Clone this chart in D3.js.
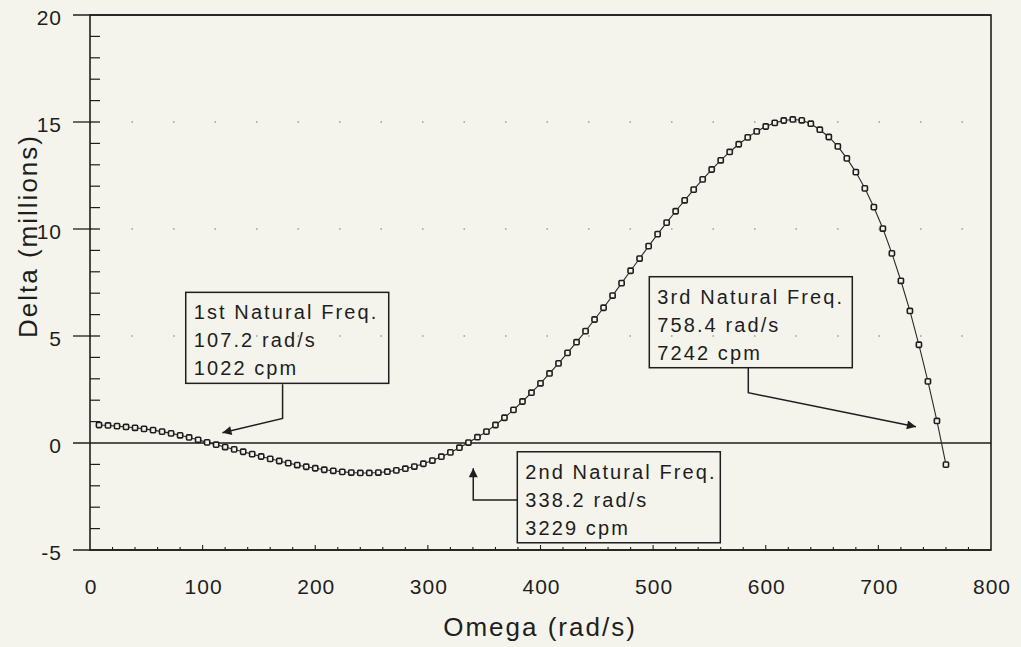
<!DOCTYPE html>
<html>
<head>
<meta charset="utf-8">
<script src="https://cdn.jsdelivr.net/npm/d3@7"></script>
<style>
  body { margin: 0; background: #f4f4ec; }
  text { font-family: "Liberation Sans", Arial, sans-serif; fill: #1e1e1e; }
</style>
</head>
<body>
<div id="app"></div>
<script>
let width = 1021;
let height = 647;

// omega (rad/s) and delta (millions)
let omega = [8, 16, 24, 32, 40, 48, 56, 64, 72, 80, 88, 96, 104, 112, 120, 128, 136, 144, 152, 160,
             168, 176, 184, 192, 200, 208, 216, 224, 232, 240, 248, 256, 264, 272, 280, 288, 296, 304, 312, 320,
             328, 336, 344, 352, 360, 368, 376, 384, 392, 400, 408, 416, 424, 432, 440, 448, 456, 464, 472, 480,
             488, 496, 504, 512, 520, 528, 536, 544, 552, 560, 568, 576, 584, 592, 600, 608, 616, 624, 632, 640,
             648, 656, 664, 672, 680, 688, 696, 704, 712, 720, 728, 736, 744, 752, 760];
let delta = [0.84, 0.82, 0.79, 0.75, 0.71, 0.66, 0.60, 0.53, 0.45, 0.36, 0.26, 0.15, 0.03, -0.08, -0.19, -0.30, -0.41, -0.52, -0.63, -0.74,
             -0.84, -0.94, -1.03, -1.11, -1.18, -1.25, -1.30, -1.35, -1.38, -1.40, -1.40, -1.38, -1.34, -1.28, -1.20, -1.10, -0.97, -0.82, -0.64, -0.44,
             -0.22, 0.02, 0.27, 0.53, 0.84, 1.18, 1.55, 1.94, 2.35, 2.79, 3.25, 3.72, 4.21, 4.71, 5.23, 5.77, 6.32, 6.89, 7.47, 8.05,
             8.62, 9.20, 9.76, 10.30, 10.83, 11.34, 11.84, 12.32, 12.78, 13.21, 13.60, 13.96, 14.28, 14.56, 14.79, 14.96, 15.07, 15.12, 15.08, 14.92,
             14.64, 14.30, 13.86, 13.30, 12.66, 11.90, 11.02, 10.02, 8.86, 7.58, 6.17, 4.59, 2.88, 1.03, -1.01];

let xTicks = [0, 100, 200, 300, 400, 500, 600, 700, 800];
let yTicks = [-5, 0, 5, 10, 15, 20];

// callout boxes: text lines, box corner (data units), leader path (data units)
let notes = [
  { lines: ['1st Natural Freq.', '107.2 rad/s', '1022 cpm'], at: [85, 7.04],
    path: [[171, 2.74], [171, 1.15], [117.6, 0.48]] },
  { lines: ['2nd Natural Freq.', '338.2 rad/s', '3229 cpm'], at: [379.4, -0.41],
    path: [[379.4, -2.66], [340.3, -2.66], [340.3, -1.18]] },
  { lines: ['3rd Natural Freq.', '758.4 rad/s', '7242 cpm'], at: [496.6, 7.77],
    path: [[584.5, 3.54], [584.5, 2.35], [733.4, 0.76]] }
];

let bg = '#f4f4ec';
let ink = '#1e1e1e';

let xScale = d3.scaleLinear().domain([0, 800]).range([90, 991]);
let yScale = d3.scaleLinear().domain([-5, 20]).range([550, 15]);

let svg = d3.select('#app').append('svg')
    .attr('width', width)
    .attr('height', height)
    .style('background', bg);

svg.append('defs').append('marker')
    .attr('id', 'arrow')
    .attr('viewBox', '0 0 10 10')
    .attr('refX', 10).attr('refY', 5)
    .attr('markerWidth', 13).attr('markerHeight', 9)
    .attr('markerUnits', 'userSpaceOnUse')
    .attr('orient', 'auto')
  .append('path')
    .attr('d', 'M0,0 L10,5 L0,10 Z')
    .style('fill', ink);

// faint dotted grid
svg.selectAll('.grid')
  .data([5, 10, 15])
  .enter().append('line')
    .attr('x1', xScale(0)).attr('x2', xScale(800))
    .attr('y1', d => yScale(d)).attr('y2', d => yScale(d))
    .style('stroke', '#9a9a9a')
    .style('stroke-width', 1.3)
    .style('stroke-dasharray', '1.5 40');

// frame
svg.append('rect')
    .attr('x', xScale(0)).attr('y', yScale(20))
    .attr('width', xScale(800) - xScale(0))
    .attr('height', yScale(-5) - yScale(20))
    .style('fill', 'none')
    .style('stroke', ink)
    .style('stroke-width', 1.6);

// zero line and outer tick stubs for top/bottom
svg.selectAll('.hline')
  .data([-5, 0, 20])
  .enter().append('line')
    .attr('x1', xScale(0) - 17).attr('x2', xScale(800))
    .attr('y1', d => yScale(d)).attr('y2', d => yScale(d))
    .style('stroke', ink)
    .style('stroke-width', 1.5);

// y ticks
svg.selectAll('.ymajor')
  .data([5, 10, 15])
  .enter().append('line')
    .attr('x1', xScale(0) - 17).attr('x2', xScale(0) + 10)
    .attr('y1', d => yScale(d)).attr('y2', d => yScale(d))
    .style('stroke', ink).style('stroke-width', 1.3);

svg.selectAll('.yminor')
  .data(d3.range(-5, 20, 1).filter(d => d % 5 !== 0))
  .enter().append('line')
    .attr('x1', xScale(0)).attr('x2', xScale(0) + 10)
    .attr('y1', d => yScale(d)).attr('y2', d => yScale(d))
    .style('stroke', ink).style('stroke-width', 1.2);

// x ticks on the bottom edge
svg.selectAll('.xminor')
  .data(d3.range(20, 800, 20))
  .enter().append('line')
    .attr('x1', d => xScale(d)).attr('x2', d => xScale(d))
    .attr('y1', yScale(-5)).attr('y2', d => yScale(-5) - (d % 100 === 0 ? 5 : 3))
    .style('stroke', ink).style('stroke-width', 1.1);

svg.selectAll('.ylab')
  .data(yTicks)
  .enter().append('text')
    .attr('x', 62)
    .attr('y', d => yScale(d) + 10)
    .attr('text-anchor', 'end')
    .style('font-size', '21px')
    .style('letter-spacing', '1px')
    .text(d => d);

svg.selectAll('.xlab')
  .data(xTicks)
  .enter().append('text')
    .attr('x', d => xScale(d) + 1)
    .attr('y', 594)
    .attr('text-anchor', 'middle')
    .style('font-size', '21px')
    .style('letter-spacing', '1px')
    .text(d => d);

svg.append('text')
    .attr('x', 540)
    .attr('y', 636)
    .attr('text-anchor', 'middle')
    .style('font-size', '26px')
    .style('letter-spacing', '2px')
    .text('Omega (rad/s)');

svg.append('text')
    .attr('transform', 'translate(37,236) rotate(-90)')
    .attr('text-anchor', 'middle')
    .style('font-size', '26px')
    .style('letter-spacing', '2px')
    .text('Delta (millions)');

// curve
let pts = omega.map((w, i) => [w, delta[i]]);

svg.append('path')
    .datum(pts)
    .attr('d', d3.line().x(d => xScale(d[0])).y(d => yScale(d[1])))
    .style('fill', 'none')
    .style('stroke', '#2a2a2a')
    .style('stroke-width', 1.1);

svg.selectAll('.pt')
  .data(pts)
  .enter().append('rect')
    .attr('x', d => xScale(d[0]) - 2.6)
    .attr('y', d => yScale(d[1]) - 2.6)
    .attr('width', 5.2).attr('height', 5.2)
    .attr('rx', 1)
    .style('fill', bg)
    .style('stroke', ink)
    .style('stroke-width', 1.6);

// callouts
let boxW = 203, boxH = 91;
let g = svg.selectAll('.note')
  .data(notes)
  .enter().append('g');

g.append('rect')
    .attr('x', d => xScale(d.at[0]))
    .attr('y', d => yScale(d.at[1]))
    .attr('width', boxW).attr('height', boxH)
    .style('fill', 'none')
    .style('stroke', ink)
    .style('stroke-width', 1.5);

g.each(function(d) {
  let sel = d3.select(this);
  d.lines.forEach((t, i) => {
    sel.append('text')
        .attr('x', xScale(d.at[0]) + 8)
        .attr('y', yScale(d.at[1]) + 27 + i * 28)
        .style('font-size', '20px')
        .style('letter-spacing', '2.1px')
        .text(t);
  });
});

g.append('path')
    .attr('d', d => d3.line().x(p => xScale(p[0])).y(p => yScale(p[1]))(d.path))
    .style('fill', 'none')
    .style('stroke', ink)
    .style('stroke-width', 1.5)
    .attr('marker-end', 'url(#arrow)');
</script>
</body>
</html>
